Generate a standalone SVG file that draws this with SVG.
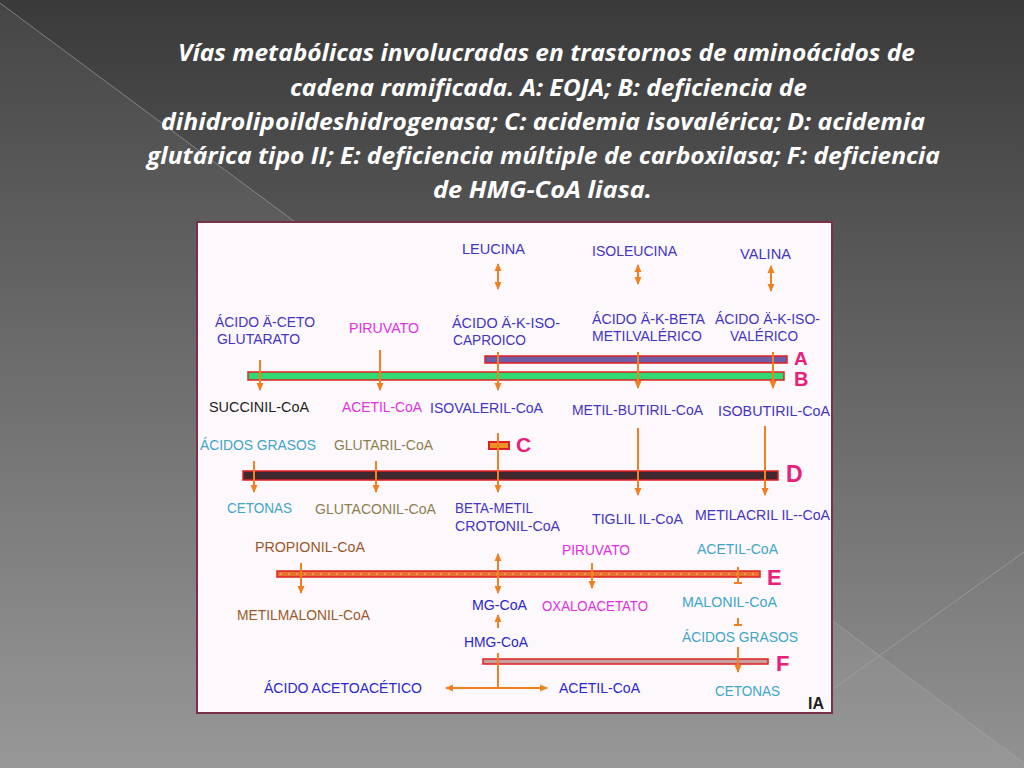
<svg xmlns="http://www.w3.org/2000/svg" width="1024" height="768" viewBox="0 0 1024 768">
<defs>
<linearGradient id="bg" x1="0" y1="0" x2="0" y2="1">
<stop offset="0" stop-color="#3a3a3a"/>
<stop offset="1" stop-color="#929292"/>
</linearGradient>
<marker id="ah" viewBox="0 0 8 8" refX="7" refY="4" markerWidth="8" markerHeight="8" markerUnits="userSpaceOnUse" orient="auto-start-reverse">
<path d="M0,0.5 L8,4 L0,7.5 Z" fill="#f08020"/>
</marker>
<style>
.t{font-family:"Open Sans","Noto Sans","Liberation Sans",sans-serif;font-weight:bold;font-style:italic;font-size:23px;fill:#ffffff}
.l{font-family:"Liberation Sans",Arial,sans-serif;font-size:14px}
.blue{fill:#4434c4}
.dblue{fill:#2a26d0}
.mag{fill:#e030e0}
.blk{fill:#1e1e1e}
.cyan{fill:#40a6c8}
.olive{fill:#8c8050}
.brown{fill:#9a5828}
.let{font-family:"Liberation Sans",Arial,sans-serif;font-weight:bold;fill:#e8207a}
.bar{stroke:#e02020;stroke-width:1.5}
.ar{stroke:#f08020;stroke-width:2;fill:none}
.arh{stroke:#f08020;stroke-width:2;fill:none;marker-end:url(#ah)}
.ar2{stroke:#f08020;stroke-width:2;fill:none;marker-end:url(#ah);marker-start:url(#ah)}
</style>
</defs>

<rect x="0" y="0" width="1024" height="768" fill="url(#bg)"/>
<polygon points="0,3 1024,763 1024,768 0,768" fill="#ffffff" fill-opacity="0.06"/>
<line x1="0" y1="3" x2="1024" y2="763" stroke="#a8a8a8" stroke-opacity="0.6" stroke-width="1"/>
<line x1="830" y1="691" x2="1024" y2="552" stroke="#a8a8a8" stroke-opacity="0.6" stroke-width="1"/>

<g id="title">
<text class="t" x="178" y="61" textLength="737" lengthAdjust="spacingAndGlyphs">Vías metabólicas involucradas en trastornos de aminoácidos de</text>
<text class="t" x="290" y="96" textLength="517" lengthAdjust="spacingAndGlyphs">cadena ramificada. A: EOJA; B: deficiencia de</text>
<text class="t" x="161" y="130" textLength="764" lengthAdjust="spacingAndGlyphs">dihidrolipoildeshidrogenasa; C: acidemia isovalérica; D: acidemia</text>
<text class="t" x="147" y="164" textLength="793" lengthAdjust="spacingAndGlyphs">glutárica tipo II; E: deficiencia múltiple de carboxilasa; F: deficiencia</text>
<text class="t" x="433" y="198" textLength="219" lengthAdjust="spacingAndGlyphs">de HMG-CoA liasa.</text>
</g>

<rect id="panel" x="197" y="222" width="635" height="491" fill="#fdf8fc" stroke="#7a3048" stroke-width="2"/>

<g id="bars">
<rect id="bar-A" class="bar" x="485" y="356" width="302" height="7" fill="#6e5ea6"/>
<rect id="bar-B" class="bar" x="248" y="372" width="536" height="8" fill="#32d872"/>
<rect id="bar-C" x="489" y="442" width="20" height="7" fill="#f09028" stroke="#e02020" stroke-width="2"/>
<rect id="bar-D" class="bar" x="243" y="471" width="535" height="9" fill="#402830"/>
<rect id="bar-E" class="bar" x="277" y="571" width="483" height="6" fill="#e87030"/>
<line x1="280" y1="574" x2="757" y2="574" stroke="#f8c080" stroke-width="1" stroke-dasharray="2 6"/>
<rect id="bar-F" class="bar" x="483" y="659" width="285" height="5" fill="#c4a0a0"/>
</g>

<g id="connectors">
<line class="ar2" x1="498" y1="264" x2="498" y2="289"/>
<line class="ar2" x1="638" y1="265" x2="638" y2="284"/>
<line class="ar2" x1="771" y1="266" x2="771" y2="291"/>
<line class="arh" x1="260" y1="360" x2="260" y2="390"/>
<line class="arh" x1="380" y1="350" x2="380" y2="390"/>
<line class="arh" x1="498" y1="352" x2="498" y2="390"/>
<line class="arh" x1="638" y1="352" x2="638" y2="388"/>
<line class="arh" x1="773" y1="352" x2="773" y2="388"/>
<line class="arh" x1="254" y1="461" x2="254" y2="492"/>
<line class="arh" x1="376" y1="461" x2="376" y2="492"/>
<line class="arh" x1="498" y1="433" x2="498" y2="492"/>
<line class="arh" x1="638" y1="428" x2="638" y2="495"/>
<line class="arh" x1="765" y1="426" x2="765" y2="495"/>
<line class="ar2" x1="498" y1="554" x2="498" y2="593"/>
<line class="arh" x1="301" y1="563" x2="301" y2="593"/>
<line class="arh" x1="592" y1="563" x2="592" y2="588"/>
<path class="ar" d="M738,567 V583 M734,583 H742"/>
<path class="ar" d="M738,618 V625 M734,625 H742"/>
<line class="arh" x1="738" y1="647" x2="738" y2="672"/>
<line class="arh" x1="498" y1="628" x2="498" y2="615"/>
<line class="ar" x1="498" y1="653" x2="498" y2="688"/>
<line class="ar2" x1="446" y1="688" x2="547" y2="688"/>
</g>

<g id="labels">
<g id="n-leucina"><text class="l blue" x="462" y="254" textLength="63" lengthAdjust="spacingAndGlyphs">LEUCINA</text></g>
<g id="n-isoleucina"><text class="l blue" x="592" y="256" textLength="85" lengthAdjust="spacingAndGlyphs">ISOLEUCINA</text></g>
<g id="n-valina"><text class="l blue" x="740" y="259" textLength="51" lengthAdjust="spacingAndGlyphs">VALINA</text></g>
<g id="n-acg"><text class="l blue" x="215" y="327" textLength="100" lengthAdjust="spacingAndGlyphs">ÁCIDO Ä-CETO</text><text class="l blue" x="217" y="344" textLength="83" lengthAdjust="spacingAndGlyphs">GLUTARATO</text></g>
<g id="n-piruvato1"><text class="l mag" x="349" y="333" textLength="70" lengthAdjust="spacingAndGlyphs">PIRUVATO</text></g>
<g id="n-akic"><text class="l blue" x="452" y="328" textLength="108" lengthAdjust="spacingAndGlyphs">ÁCIDO Ä-K-ISO-</text><text class="l blue" x="453" y="345" textLength="73" lengthAdjust="spacingAndGlyphs">CAPROICO</text></g>
<g id="n-akbmv"><text class="l blue" x="592" y="324" textLength="113" lengthAdjust="spacingAndGlyphs">ÁCIDO Ä-K-BETA</text><text class="l blue" x="592" y="341" textLength="110" lengthAdjust="spacingAndGlyphs">METILVALÉRICO</text></g>
<g id="n-akiv"><text class="l blue" x="715" y="324" textLength="105" lengthAdjust="spacingAndGlyphs">ÁCIDO Ä-K-ISO-</text><text class="l blue" x="730" y="341" textLength="68" lengthAdjust="spacingAndGlyphs">VALÉRICO</text></g>
<g id="n-succinil"><text class="l blk" x="209" y="412" textLength="100" lengthAdjust="spacingAndGlyphs">SUCCINIL-CoA</text></g>
<g id="n-acetil1"><text class="l mag" x="342" y="412" textLength="80" lengthAdjust="spacingAndGlyphs">ACETIL-CoA</text></g>
<g id="n-isovaleril"><text class="l blue" x="430" y="413" textLength="113" lengthAdjust="spacingAndGlyphs">ISOVALERIL-CoA</text></g>
<g id="n-metilbutiril"><text class="l blue" x="572" y="415" textLength="131" lengthAdjust="spacingAndGlyphs">METIL-BUTIRIL-CoA</text></g>
<g id="n-isobutiril"><text class="l blue" x="718" y="416" textLength="112" lengthAdjust="spacingAndGlyphs">ISOBUTIRIL-CoA</text></g>
<g id="n-grasos1"><text class="l cyan" x="200" y="450" textLength="116" lengthAdjust="spacingAndGlyphs">ÁCIDOS GRASOS</text></g>
<g id="n-glutaril"><text class="l olive" x="334" y="450" textLength="99" lengthAdjust="spacingAndGlyphs">GLUTARIL-CoA</text></g>
<g id="n-cetonas1"><text class="l cyan" x="227" y="513" textLength="65" lengthAdjust="spacingAndGlyphs">CETONAS</text></g>
<g id="n-glutaconil"><text class="l olive" x="315" y="514" textLength="121" lengthAdjust="spacingAndGlyphs">GLUTACONIL-CoA</text></g>
<g id="n-betametil"><text class="l blue" x="455" y="513" textLength="78" lengthAdjust="spacingAndGlyphs">BETA-METIL</text><text class="l blue" x="455" y="531" textLength="105" lengthAdjust="spacingAndGlyphs">CROTONIL-CoA</text></g>
<g id="n-tiglil"><text class="l blue" x="592" y="524" textLength="91" lengthAdjust="spacingAndGlyphs">TIGLIL IL-CoA</text></g>
<g id="n-metilacril"><text class="l blue" x="695" y="520" textLength="135" lengthAdjust="spacingAndGlyphs">METILACRIL IL--CoA</text></g>
<g id="n-propionil"><text class="l brown" x="255" y="552" textLength="110" lengthAdjust="spacingAndGlyphs">PROPIONIL-CoA</text></g>
<g id="n-piruvato2"><text class="l mag" x="562" y="555" textLength="68" lengthAdjust="spacingAndGlyphs">PIRUVATO</text></g>
<g id="n-acetil2"><text class="l cyan" x="697" y="554" textLength="81" lengthAdjust="spacingAndGlyphs">ACETIL-CoA</text></g>
<g id="n-metilmalonil"><text class="l brown" x="237" y="620" textLength="133" lengthAdjust="spacingAndGlyphs">METILMALONIL-CoA</text></g>
<g id="n-mgcoa"><text class="l dblue" x="472" y="610" textLength="55" lengthAdjust="spacingAndGlyphs">MG-CoA</text></g>
<g id="n-oxalo"><text class="l mag" x="542" y="611" textLength="106" lengthAdjust="spacingAndGlyphs">OXALOACETATO</text></g>
<g id="n-malonil"><text class="l cyan" x="682" y="607" textLength="95" lengthAdjust="spacingAndGlyphs">MALONIL-CoA</text></g>
<g id="n-hmgcoa"><text class="l dblue" x="464" y="647" textLength="64" lengthAdjust="spacingAndGlyphs">HMG-CoA</text></g>
<g id="n-grasos2"><text class="l cyan" x="682" y="642" textLength="116" lengthAdjust="spacingAndGlyphs">ÁCIDOS GRASOS</text></g>
<g id="n-acetoacetico"><text class="l dblue" x="264" y="693" textLength="158" lengthAdjust="spacingAndGlyphs">ÁCIDO ACETOACÉTICO</text></g>
<g id="n-acetil3"><text class="l dblue" x="559" y="693" textLength="81" lengthAdjust="spacingAndGlyphs">ACETIL-CoA</text></g>
<g id="n-cetonas2"><text class="l cyan" x="715" y="696" textLength="65" lengthAdjust="spacingAndGlyphs">CETONAS</text></g>
<g id="n-ia"><text x="808" y="709" font-family="Liberation Sans,Arial,sans-serif" font-weight="bold" font-size="16" fill="#1e1e1e">IA</text></g>
</g>

<g id="bar-letters">
<text class="let" x="794" y="365" font-size="19">A</text>
<text class="let" x="794" y="386" font-size="20">B</text>
<text class="let" x="516" y="452" font-size="21">C</text>
<text class="let" x="786" y="482" font-size="23">D</text>
<text class="let" x="767" y="585" font-size="22">E</text>
<text class="let" x="776" y="671" font-size="22">F</text>
</g>
</svg>
